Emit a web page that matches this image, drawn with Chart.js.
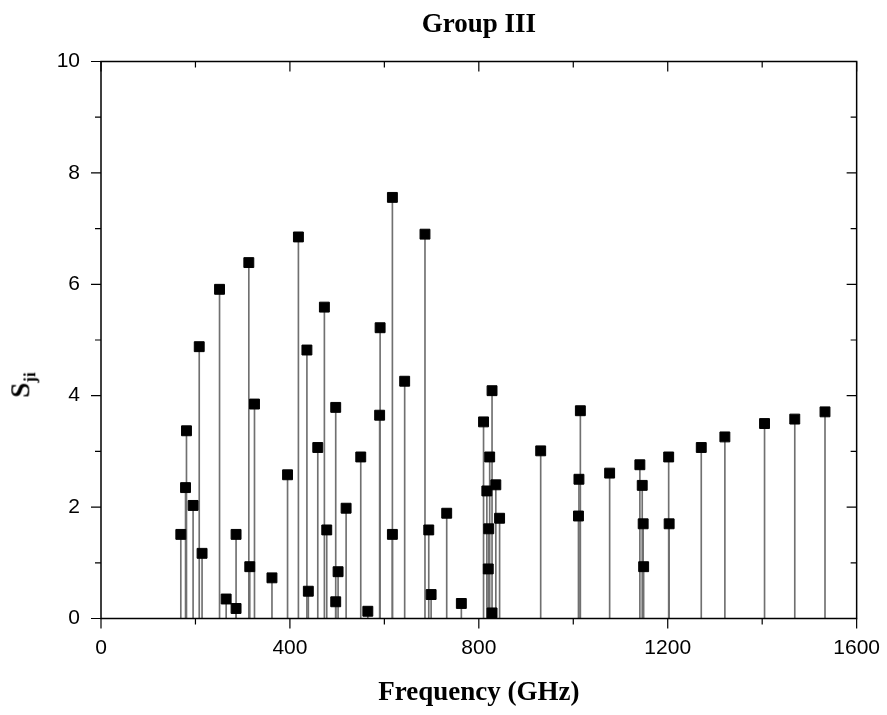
<!DOCTYPE html>
<html>
<head>
<meta charset="utf-8">
<script src="https://cdn.jsdelivr.net/npm/chart.js@4"></script>
<style>
    body { margin: 0; background: #fff; }
    #wrap { position: relative; width: 887px; height: 715px; }
    #ylabel {
        position: absolute;
        left: 23px;
        top: 385px;
        transform: translate(-50%, -50%) rotate(-90deg);
        font: bold 27px 'Liberation Serif', 'Times New Roman', serif;
        white-space: nowrap;
        color: #000;
    }
    #ylabel sub { font-size: 17px; }
</style>
</head>
<body>
<div id="wrap">
    <canvas id="sjiChart"></canvas>
    <div id="ylabel">S<sub>ji</sub></div>
</div>
<script>
// Frecuencias (GHz) y valores S_ji
const frequency = [
    169, 179, 181, 195, 208, 214, 251, 265, 286, 286,
    313, 315, 325, 362, 395, 418, 436, 439, 459, 473,
    478, 497, 502, 497, 519, 550, 565, 591, 590, 617,
    617, 643, 686, 694, 699, 732, 763, 810, 817, 821,
    820, 823, 828, 836, 844, 828, 931, 1015, 1012, 1011,
    1077, 1141, 1146, 1148, 1149, 1202, 1203, 1271, 1321, 1405,
    1469, 1533
];
const sji = [
    1.51, 2.35, 3.37, 2.03, 4.88, 1.17, 5.91, 0.35, 1.51, 0.18,
    6.39, 0.93, 3.85, 0.73, 2.58, 6.85, 4.82, 0.49, 3.07, 5.59,
    1.59, 3.79, 0.84, 0.30, 1.98, 2.90, 0.13, 5.22, 3.65, 7.56,
    1.51, 4.26, 6.90, 1.59, 0.43, 1.89, 0.27, 3.53, 2.29, 1.61,
    0.89, 2.90, 4.09, 2.40, 1.80, 0.10, 3.01, 3.73, 2.50, 1.84,
    2.61, 2.76, 2.39, 1.70, 0.93, 2.90, 1.70, 3.07, 3.26, 3.50,
    3.58, 3.71
];

const xTicks = [0, 400, 800, 1200, 1600];
const yTicks = [0, 2, 4, 6, 8, 10];

const points = frequency.map((f, i) => ({ x: f, y: sji[i] }));

// Marco con ticks: hacia fuera abajo/izquierda, hacia dentro arriba/derecha
const framePlugin = {
    id: 'frame',
    afterDraw(chart) {
        const { ctx, chartArea: a, scales: { x, y } } = chart;
        ctx.save();
        ctx.strokeStyle = '#000';
        ctx.lineWidth = 1.5;
        ctx.strokeRect(a.left, a.top, a.right - a.left, a.bottom - a.top);
        ctx.lineWidth = 1.2;
        ctx.beginPath();
        for (let v = 0; v <= 1600; v += 200) {
            const px = x.getPixelForValue(v);
            const len = xTicks.includes(v) ? 10 : 6;
            ctx.moveTo(px, a.bottom); ctx.lineTo(px, a.bottom + len);
            ctx.moveTo(px, a.top); ctx.lineTo(px, a.top + len);
        }
        for (let v = 0; v <= 10; v += 1) {
            const py = y.getPixelForValue(v);
            const len = yTicks.includes(v) ? 10 : 6;
            ctx.moveTo(a.left, py); ctx.lineTo(a.left - len, py);
            ctx.moveTo(a.right, py); ctx.lineTo(a.right - len, py);
        }
        ctx.stroke();
        ctx.restore();
    }
};

const serif = "'Liberation Serif', 'Times New Roman', serif";
const sans = "'Liberation Sans', Arial, sans-serif";

const chart = new Chart(document.getElementById('sjiChart'), {
    data: {
        datasets: [
            {
                type: 'scatter',
                data: points,
                pointStyle: 'rect',
                pointRadius: 7,
                pointBackgroundColor: '#000',
                pointBorderColor: '#000',
                pointBorderWidth: 1,
                order: 0
            },
            {
                type: 'bar',
                data: points,
                backgroundColor: '#707070',
                barThickness: 1,
                grouped: false,
                order: 1
            }
        ]
    },
    options: {
        responsive: true,
        maintainAspectRatio: false,
        animation: false,
        layout: { padding: { left: 0, right: 29.7, top: 0, bottom: 0 } },
        plugins: {
            legend: { display: false },
            tooltip: { enabled: false },
            title: {
                display: true,
                fullSize: false, // centrado sobre el área del gráfico
                text: 'Group III',
                color: '#000',
                font: { family: serif, size: 27, weight: 'bold', lineHeight: 1.2 },
                padding: { top: 8.8, bottom: 20.3 }
            }
        },
        scales: {
            x: {
                type: 'linear',
                min: 0,
                max: 1600,
                offset: false,
                grid: { display: false, drawTicks: true, tickLength: 10 },
                border: { display: false },
                ticks: {
                    stepSize: 400,
                    padding: 7,
                    color: '#000',
                    font: { family: sans, size: 21 },
                    maxRotation: 0,
                    callback: (v) => String(v)
                },
                title: {
                    display: true,
                    text: 'Frequency (GHz)',
                    color: '#000',
                    font: { family: serif, size: 27, weight: 'bold', lineHeight: 1.2 },
                    padding: { top: 0, bottom: 5.8 }
                },
                afterFit(scale) { scale.height = 96.5; }
            },
            y: {
                type: 'linear',
                min: 0,
                max: 10,
                grid: { display: false, drawTicks: true, tickLength: 10 },
                border: { display: false },
                ticks: {
                    stepSize: 2,
                    padding: 11,
                    color: '#000',
                    font: { family: sans, size: 21 },
                    callback: (v) => String(v)
                },
                afterFit(scale) { scale.width = 101; }
            }
        }
    },
    plugins: [framePlugin]
});
</script>
</body>
</html>
